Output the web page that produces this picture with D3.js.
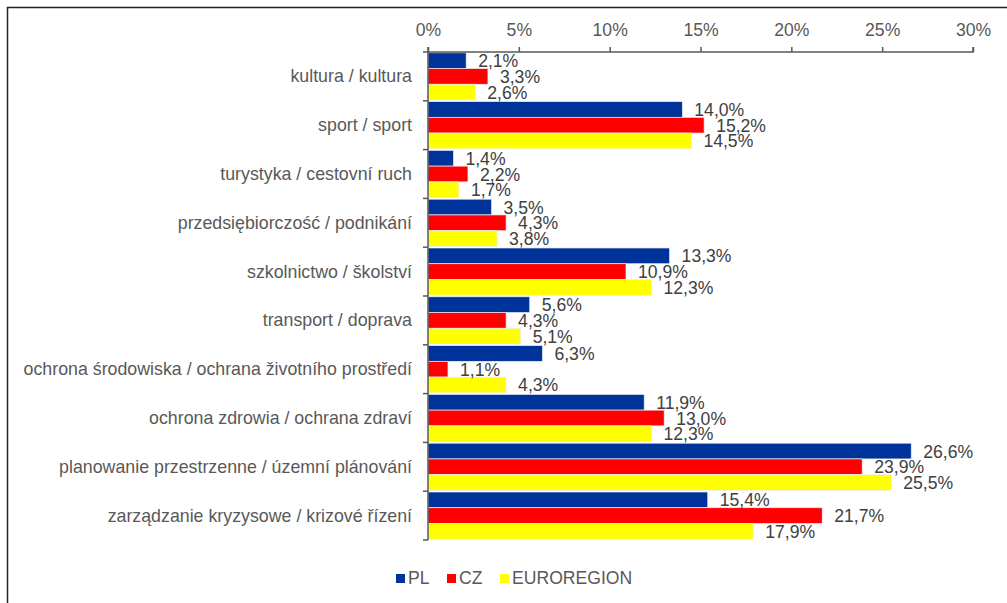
<!DOCTYPE html>
<html>
<head>
<meta charset="utf-8">
<script src="https://cdn.jsdelivr.net/npm/d3@7"></script>
<style>
  body { margin: 0; background: #fff; }
  svg { display: block; font-family: "Liberation Sans", Arial, sans-serif; }
</style>
</head>
<body>
<div id="chart"></div>
<script>
var categories = [
  'kultura / kultura',
  'sport / sport',
  'turystyka / cestovní ruch',
  'przedsiębiorczość / podnikání',
  'szkolnictwo / školství',
  'transport / doprava',
  'ochrona środowiska / ochrana životního prostředí',
  'ochrona zdrowia / ochrana zdraví',
  'planowanie przestrzenne / územní plánování',
  'zarządzanie kryzysowe / krizové řízení'
];
var seriesNames = ['PL', 'CZ', 'EUROREGION'];
var seriesColors = ['#003399', '#ff0000', '#ffff00'];
var plValues = [2.1, 14.0, 1.4, 3.5, 13.3, 5.6, 6.3, 11.9, 26.6, 15.4];
var czValues = [3.3, 15.2, 2.2, 4.3, 10.9, 4.3, 1.1, 13.0, 23.9, 21.7];
var euValues = [2.6, 14.5, 1.7, 3.8, 12.3, 5.1, 4.3, 12.3, 25.5, 17.9];
var xTicks = [0, 5, 10, 15, 20, 25, 30];

var width = 1007, height = 603;
var margin = {left: 428, right: 34, top: 52, bottom: 63};

var svg = d3.select('#chart').append('svg')
  .attr('width', width)
  .attr('height', height);

// outer frame (top and left edges visible)
svg.append('path')
  .attr('d', 'M7.5,' + height + ' V7.5 H' + width)
  .attr('fill', 'none')
  .attr('stroke', '#222')
  .attr('stroke-width', 1.5);

var x = d3.scaleLinear().domain([0, 30]).range([margin.left, width - margin.right]);
var y = d3.scaleBand().domain(categories).range([margin.top, height - margin.bottom]);
var inner = d3.scaleBand().domain(seriesNames).range([0, y.bandwidth()]).paddingOuter(0.05);

var rows = [];
var allValues = [plValues, czValues, euValues];
categories.forEach(function(c, i) {
  seriesNames.forEach(function(s, j) {
    rows.push({cat: c, series: s, color: seriesColors[j], value: allValues[j][i]});
  });
});

var fmt = function(v) { return v.toFixed(1).replace('.', ',') + '%'; };

// bars
svg.selectAll('.bar')
  .data(rows)
  .enter().append('rect')
  .attr('class', 'bar')
  .attr('x', x(0))
  .attr('y', function(d) { return y(d.cat) + inner(d.series); })
  .attr('width', function(d) { return x(d.value) - x(0); })
  .attr('height', inner.bandwidth())
  .attr('fill', function(d) { return d.color; })
  .attr('stroke', '#e8eefa')
  .attr('stroke-width', 0.7);

// value labels
svg.selectAll('.val')
  .data(rows)
  .enter().append('text')
  .attr('class', 'val')
  .attr('x', function(d) { return x(d.value) + 12; })
  .attr('y', function(d) { return y(d.cat) + inner(d.series) + inner.bandwidth() / 2 + 6.5; })
  .attr('font-size', 17.6)
  .attr('fill', '#404040')
  .text(function(d) { return fmt(d.value); });

// top axis
var xAxis = d3.axisTop(x).tickValues(xTicks).tickSize(5).tickFormat(function(d) { return d + '%'; });
var gx = svg.append('g').attr('transform', 'translate(0,' + margin.top + ')').call(xAxis);
gx.select('.domain').attr('stroke', '#595959').attr('stroke-width', 1.5).attr('d', 'M' + x(0) + ',0H' + x(30) + 'V-5');
gx.selectAll('.tick line').attr('stroke', '#595959').attr('stroke-width', 1.5);
gx.selectAll('.tick text').attr('font-size', 17.6).attr('fill', '#595959').attr('dy', null).attr('y', -16)
  .attr('font-family', '"Liberation Sans", Arial, sans-serif');

// left axis with ticks between categories
var gy = svg.append('g');
gy.append('line')
  .attr('x1', x(0)).attr('x2', x(0))
  .attr('y1', margin.top - 5).attr('y2', height - margin.bottom)
  .attr('stroke', '#595959').attr('stroke-width', 1.5);
var bounds = categories.map(function(c) { return y(c); }).concat([y.range()[1]]);
gy.selectAll('.ytick')
  .data(bounds)
  .enter().append('line')
  .attr('x1', x(0) - 5).attr('x2', x(0))
  .attr('y1', function(d) { return d; }).attr('y2', function(d) { return d; })
  .attr('stroke', '#595959').attr('stroke-width', 1.5);
gy.selectAll('.cat')
  .data(categories)
  .enter().append('text')
  .attr('x', x(0) - 16)
  .attr('y', function(d) { return y(d) + y.bandwidth() / 2 + 6; })
  .attr('text-anchor', 'end')
  .attr('font-size', 17.8)
  .attr('fill', '#595959')
  .text(function(d) { return d; });

// legend
var legendX = [396, 447, 500];
var legend = svg.selectAll('.leg')
  .data(seriesNames)
  .enter().append('g')
  .attr('transform', function(d, i) { return 'translate(' + legendX[i] + ',574)'; });
legend.append('rect')
  .attr('width', 9).attr('height', 9)
  .attr('fill', function(d, i) { return seriesColors[i]; });
legend.append('text')
  .attr('x', 12).attr('y', 10)
  .attr('font-size', 17.6)
  .attr('fill', '#595959')
  .text(function(d) { return d; });
</script>
</body>
</html>
